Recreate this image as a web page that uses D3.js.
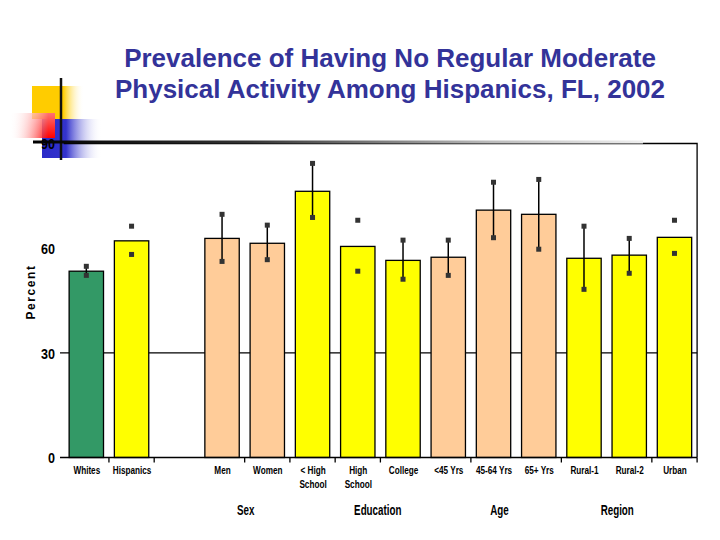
<!DOCTYPE html>
<html>
<head>
<meta charset="utf-8">
<script src="https://cdn.jsdelivr.net/npm/d3@7"></script>
<style>
  html, body { margin: 0; padding: 0; background: #fff; }
  svg { display: block; }
  .narrow { font-family: "Liberation Sans", Arial, sans-serif; font-weight: bold; }
</style>
</head>
<body>
<svg id="chart" width="720" height="540"></svg>
<script>
// ---------------- DATA ----------------
const titleLines = ["Prevalence of Having No Regular Moderate", "Physical Activity Among Hispanics, FL, 2002"];
const categories = ["Whites", "Hispanics", "", "Men", "Women", "< High\nSchool", "High\nSchool", "College", "<45 Yrs", "45-64 Yrs", "65+ Yrs", "Rural-1", "Rural-2", "Urban"];
const values     = [53.4, 62.1, null, 62.8, 61.4, 76.3, 60.5, 56.5, 57.4, 70.9, 69.7, 57.1, 58.0, 63.1];
const ciLow      = [52.2, 58.2, null, 56.2, 56.7, 68.8, 53.4, 51.1, 52.2, 63.0, 59.7, 48.2, 52.8, 58.5];
const ciHigh     = [54.8, 66.3, null, 69.7, 66.6, 84.3, 68.0, 62.3, 62.3, 78.9, 79.7, 66.3, 62.8, 68.0];
const ciLineShown = [true, false, false, true, true, true, false, true, true, true, true, true, true, false];
const barColors  = ["#339966", "#FFFF00", null, "#FFCC99", "#FFCC99", "#FFFF00", "#FFFF00", "#FFFF00", "#FFCC99", "#FFCC99", "#FFCC99", "#FFFF00", "#FFFF00", "#FFFF00"];
const yTicks = [0, 30, 60, 90];
const gridValues = [30];
const tickAfter = ["Whites", "Hispanics", "Men", "Women", "< High\nSchool", "High\nSchool", "<45 Yrs", "65+ Yrs", "Rural-2", "Urban"];
const groupNames = ["Sex", "Education", "Age", "Region"];
const groupFirst = ["Men", "< High\nSchool", "<45 Yrs", "Rural-1"];
const groupLast  = ["Women", "College", "65+ Yrs", "Urban"];
const yLabel = "Percent";

// ---------------- STYLE / LAYOUT ----------------
const plot = { left: 63.7, right: 697.1, top: 143.5, bottom: 457.5 };
const groupLabelOffsets = [1, 20, 6, -12];

const svg = d3.select("#chart");
const defs = svg.append("defs");

function hGrad(id, stops) {
  const g = defs.append("linearGradient").attr("id", id).attr("x1", "0").attr("x2", "1").attr("y1", "0").attr("y2", "0");
  stops.forEach(s => g.append("stop").attr("offset", s[0]).attr("stop-color", s[1]).attr("stop-opacity", s[2] == null ? 1 : s[2]));
}
hGrad("gGold", [[0, "#FFCC00"], [0.6, "#FFCC00"], [1, "#FFFFFF", 0]]);
hGrad("gBlue", [[0, "#2B2BC8"], [0.4, "#3333CC"], [1, "#FFFFFF", 0]]);
hGrad("gRed", [[0, "#FFFFFF", 0], [0.85, "#FF0000"], [1, "#FF0000"]]);
hGrad("gLine", [[0, "#000"], [0.35, "#333"], [0.75, "#bbb"], [1, "#eee"]]);
const rv = defs.append("linearGradient").attr("id", "gRedV").attr("x1", "0").attr("x2", "0").attr("y1", "0").attr("y2", "1");
rv.append("stop").attr("offset", 0).attr("stop-color", "#fff").attr("stop-opacity", 0.45);
rv.append("stop").attr("offset", 1).attr("stop-color", "#fff").attr("stop-opacity", 0);

// Decoration
const deco = svg.append("g");
deco.append("rect").attr("x", 32).attr("y", 86).attr("width", 52).attr("height", 33).attr("fill", "url(#gGold)");
deco.append("rect").attr("x", 42).attr("y", 119).attr("width", 60).attr("height", 39).attr("fill", "url(#gBlue)");
deco.append("rect").attr("x", 10).attr("y", 113).attr("width", 45).attr("height", 25).attr("fill", "url(#gRed)");
deco.append("rect").attr("x", 10).attr("y", 113).attr("width", 45).attr("height", 25).attr("fill", "url(#gRedV)");

// Title
const title = svg.append("text").attr("x", 390).attr("y", 67)
  .attr("text-anchor", "middle")
  .style("font-family", "'Liberation Sans', Arial, sans-serif")
  .style("font-weight", "bold").style("font-size", "26px").attr("fill", "#333399");
titleLines.forEach((t, i) => title.append("tspan").attr("x", 390).attr("dy", i === 0 ? 0 : 31).text(t));

// Scales
const x = d3.scalePoint().domain(categories).range([plot.left, plot.right]).padding(0.5);
const step = x.step();
const barW = step * 0.76;
const y = d3.scaleLinear().domain([0, 90]).range([plot.bottom, plot.top]);

// Gridline at 30
svg.append("g").selectAll("line").data(gridValues).join("line")
  .attr("x1", 60).attr("x2", plot.right).attr("y1", d => y(d)).attr("y2", d => y(d))
  .attr("stroke", "#000").attr("stroke-width", 1.2);

// Frame (top & right)
svg.append("path")
  .attr("d", `M${plot.left},${y(90)}H${plot.right}V${y(0)}`)
  .attr("fill", "none").attr("stroke", "#000").attr("stroke-width", 1.3);

// Bars
const idx = d3.range(categories.length).filter(i => values[i] != null);
svg.append("g").selectAll("rect").data(idx).join("rect")
  .attr("x", i => x(categories[i]) - barW / 2)
  .attr("y", i => y(values[i]))
  .attr("width", barW)
  .attr("height", i => y(0) - y(values[i]))
  .attr("fill", i => barColors[i])
  .attr("stroke", "#000").attr("stroke-width", 1.3);

// Error bars
const eb = svg.append("g");
eb.selectAll("line").data(idx.filter(i => ciLineShown[i])).join("line")
  .attr("x1", i => x(categories[i])).attr("x2", i => x(categories[i]))
  .attr("y1", i => y(ciLow[i])).attr("y2", i => y(ciHigh[i]))
  .attr("stroke", "#000").attr("stroke-width", 1.5);
const ms = 5;
eb.selectAll("rect.lo").data(idx).join("rect").attr("class", "lo")
  .attr("x", i => x(categories[i]) - ms / 2).attr("y", i => y(ciLow[i]) - ms / 2)
  .attr("width", ms).attr("height", ms).attr("fill", "#333");
eb.selectAll("rect.hi").data(idx).join("rect").attr("class", "hi")
  .attr("x", i => x(categories[i]) - ms / 2).attr("y", i => y(ciHigh[i]) - ms / 2)
  .attr("width", ms).attr("height", ms).attr("fill", "#333");

// X baseline and ticks
svg.append("line").attr("x1", 60).attr("x2", plot.right).attr("y1", y(0)).attr("y2", y(0))
  .attr("stroke", "#000").attr("stroke-width", 1.5);
svg.append("g").selectAll("line").data(tickAfter).join("line")
  .attr("x1", d => x(d) + step / 2).attr("x2", d => x(d) + step / 2)
  .attr("y1", y(0)).attr("y2", y(0) + 5)
  .attr("stroke", "#000").attr("stroke-width", 1.3);

// X labels via axis (condensed by horizontal scaling)
const xAxis = svg.append("g").attr("transform", `translate(0,${y(0)})`)
  .call(d3.axisBottom(x).tickSize(0).tickPadding(0).tickFormat(""));
xAxis.select(".domain").remove();
xAxis.selectAll(".tick text").remove();
xAxis.selectAll(".tick").each(function(d) {
  if (!d) return;
  const t = d3.select(this).append("text").attr("class", "narrow")
    .attr("transform", "scale(0.78,1)")
    .attr("text-anchor", "middle").attr("fill", "#000")
    .style("font-size", "10.5px").attr("y", 17);
  d.split("\n").forEach((s, i) => t.append("tspan").attr("x", 0).attr("dy", i === 0 ? 0 : 14).text(s));
});

// Group labels
svg.append("g").selectAll("text").data(groupNames).join("text")
  .attr("class", "narrow")
  .attr("transform", (d, i) => `translate(${(x(groupFirst[i]) + x(groupLast[i])) / 2 + groupLabelOffsets[i]},515) scale(0.7,1)`)
  .attr("text-anchor", "middle").style("font-size", "14px").attr("fill", "#000")
  .text(d => d);

// Y axis labels
const yAxis = svg.append("g").attr("transform", `translate(55,0)`)
  .call(d3.axisLeft(y).tickValues(yTicks).tickSize(0).tickPadding(0));
yAxis.select(".domain").remove();
yAxis.selectAll(".tick text").attr("class", "narrow").attr("x", 0)
  .attr("transform", "scale(0.84,1)")
  .style("font-size", "15px").attr("fill", "#000").attr("dy", "0.35em");

// Decorative lines on top
svg.append("line").attr("x1", 61).attr("x2", 61).attr("y1", 78).attr("y2", 160)
  .attr("stroke", "#111").attr("stroke-width", 2.5);
svg.append("rect").attr("x", 33).attr("y", 140.5).attr("width", 610).attr("height", 3).attr("fill", "url(#gLine)");

// Y title
svg.append("text").attr("transform", "translate(35,292) rotate(-90)")
  .attr("text-anchor", "middle")
  .style("font-family", "'Liberation Sans', Arial, sans-serif").style("font-weight", "bold")
  .style("font-size", "12px").style("letter-spacing", "1.6px").attr("fill", "#000")
  .text(yLabel);
</script>
</body>
</html>
